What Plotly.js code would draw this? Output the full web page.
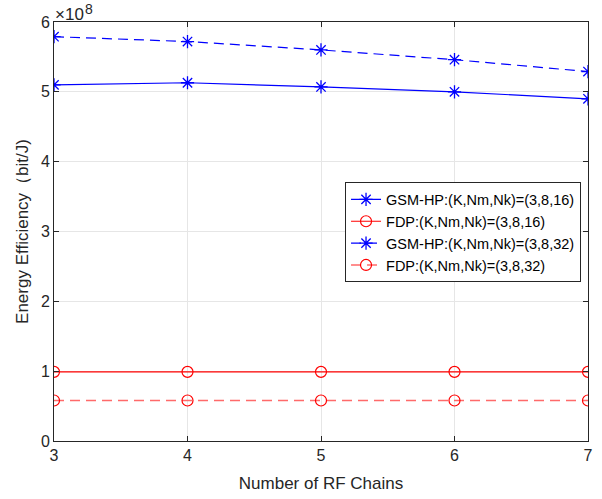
<!DOCTYPE html>
<html><head><meta charset="utf-8">
<script src="https://cdn.plot.ly/plotly-3.0.1.min.js"></script>
<style>html,body{margin:0;padding:0;background:#fff}#c{width:602px;height:499px}</style>
</head><body><div id="c"></div>
<script>
const rfChains = [3, 4, 5, 6, 7];
const gsm16 = [5.10e8, 5.13e8, 5.07e8, 5.00e8, 4.90e8];
const fdp16 = [0.99e8, 0.99e8, 0.99e8, 0.99e8, 0.99e8];
const gsm32 = [5.79e8, 5.72e8, 5.60e8, 5.46e8, 5.29e8];
const fdp32 = [0.58e8, 0.58e8, 0.58e8, 0.58e8, 0.58e8];
const names = ['GSM-HP:(K,Nm,Nk)=(3,8,16)','FDP:(K,Nm,Nk)=(3,8,16)','GSM-HP:(K,Nm,Nk)=(3,8,32)','FDP:(K,Nm,Nk)=(3,8,32)'];
const yTickVals = [0, 1e8, 2e8, 3e8, 4e8, 5e8, 6e8];
const yTickText = ['0','1','2','3','4','5','6'];
const xTickVals = [3,4,5,6,7];

const font = 'Liberation Sans, Arial, sans-serif';
const traces = [
 {x: rfChains, y: gsm16, name: names[0], mode:'lines+markers', line:{color:'#0000ff', width:1.2}, marker:{symbol:'asterisk-open', size:11, color:'#0000ff', line:{color:'#0000ff', width:1.3}}},
 {x: rfChains, y: fdp16, name: names[1], mode:'lines+markers', line:{color:'#ff0000', width:1.2}, marker:{symbol:'circle-open', size:11, color:'#ff0000', line:{color:'#ff0000', width:1.2}}},
 {x: rfChains, y: gsm32, name: names[2], mode:'lines+markers', line:{color:'#0000ff', width:1.2, dash:'10px,6px'}, marker:{symbol:'asterisk-open', size:11, color:'#0000ff', line:{color:'#0000ff', width:1.3}}},
 {x: rfChains, y: fdp32, name: names[3], mode:'lines+markers', line:{color:'#ff6a6a', width:1.5, dash:'10px,6px'}, marker:{symbol:'circle-open', size:11, color:'#ff0000', line:{color:'#ff0000', width:1.2}}}
];
const axisCommon = {showline:true, mirror:'ticks', linecolor:'#262626', linewidth:1, ticks:'inside', ticklen:5, tickcolor:'#262626', showgrid:true, gridcolor:'#e6e6e6', gridwidth:1, zeroline:false, tickfont:{family:font, size:16, color:'#262626'}};
const layout = {
 width:602, height:499, paper_bgcolor:'#fff', plot_bgcolor:'#fff',
 margin:{l:54, r:14, t:22, b:58},
 font:{family:font, color:'#262626'},
 xaxis: Object.assign({}, axisCommon, {range:[3,7], tickvals:xTickVals, title:{text:'Number of RF Chains', font:{family:font, size:17, color:'#262626'}, standoff:13}}),
 yaxis: Object.assign({}, axisCommon, {range:[0,6e8], tickvals:yTickVals, ticktext:yTickText, title:{text:'Energy Efficiency（bit/J)', font:{family:font, size:17, color:'#262626'}, standoff:7}}),
 legend:{x:0.545, y:0.617, xanchor:'left', yanchor:'top', bgcolor:'#fff', bordercolor:'#262626', borderwidth:1, font:{family:font, size:14.5, color:'#000'}, tracegroupgap:0, itemwidth:30},
 annotations:[
  {xref:'paper', yref:'paper', x:0, y:1, xanchor:'left', yanchor:'bottom', showarrow:false, text:'×10', font:{family:font, size:17, color:'#262626'}, xshift:-1, yshift:-4},
  {xref:'paper', yref:'paper', x:0, y:1, xanchor:'left', yanchor:'bottom', showarrow:false, text:'8', font:{family:font, size:14, color:'#262626'}, xshift:29, yshift:3}
 ],
 showlegend:true
};
Plotly.newPlot('c', traces, layout, {displayModeBar:false, staticPlot:true});
</script></body></html>
